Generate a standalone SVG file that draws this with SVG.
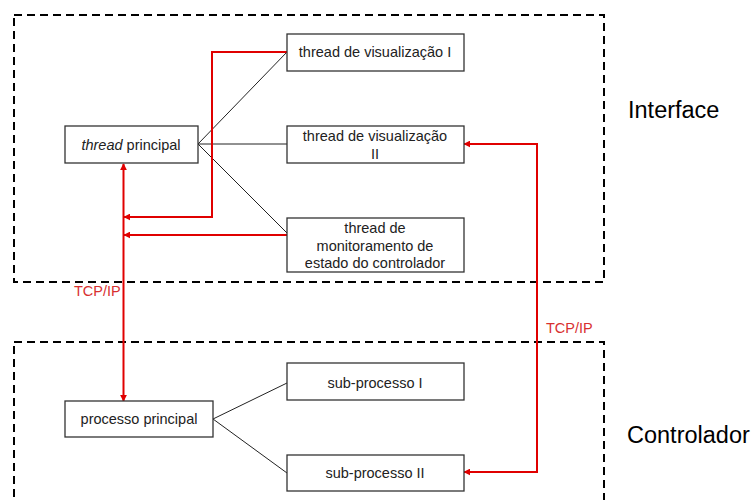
<svg xmlns="http://www.w3.org/2000/svg" width="755" height="500" viewBox="0 0 755 500">
<defs>
<style>
.zone{fill:none;stroke:#000;stroke-width:2;stroke-dasharray:8 5}
.box{fill:#fff;stroke:#333;stroke-width:1.3}
.t{font-family:"Liberation Sans",Arial,sans-serif;font-size:14.5px;fill:#222;text-anchor:middle}
.big{font-family:"Liberation Sans",Arial,sans-serif;font-size:23.5px;fill:#000}
.lbl{font-family:"Liberation Sans",Arial,sans-serif;font-size:14.5px;fill:#d83030}
.lk{fill:none;stroke:#222;stroke-width:1}
.red{fill:none;stroke:#e00000;stroke-width:2}
</style>
<marker id="ah" viewBox="0 0 10 10" refX="9" refY="5" markerWidth="7" markerHeight="7" markerUnits="userSpaceOnUse" orient="auto-start-reverse">
<path d="M0,0 L10,5 L0,10 z" fill="#e00000"/>
</marker>
</defs>
<g id="zones">
<rect class="zone" x="14" y="15" width="590" height="267"/>
<rect class="zone" x="14" y="342" width="590" height="170"/>
<text class="big" x="628" y="118">Interface</text>
<text class="big" x="627" y="443">Controlador</text>
</g>
<g id="connectors">
<line class="lk" x1="198" y1="144" x2="287" y2="52"/>
<line class="lk" x1="198" y1="144" x2="287" y2="144"/>
<line class="lk" x1="198" y1="144" x2="287" y2="233"/>
<line class="lk" x1="213" y1="419" x2="287" y2="383"/>
<line class="lk" x1="213" y1="419" x2="287" y2="473"/>
<polyline class="red" points="287,52 212,52 212,217 124,217" marker-end="url(#ah)"/>
<line class="red" x1="287" y1="235" x2="124" y2="235" marker-end="url(#ah)"/>
<line class="red" x1="123.5" y1="164" x2="123.5" y2="401" marker-start="url(#ah)" marker-end="url(#ah)"/>
<polyline class="red" points="464,144 537,144 537,472 464,472" marker-start="url(#ah)" marker-end="url(#ah)"/>
<text class="lbl" x="74" y="296">TCP/IP</text>
<text class="lbl" x="546" y="333">TCP/IP</text>
</g>
<g id="thread-principal">
<rect class="box" x="65" y="126" width="133" height="37"/>
<text class="t" x="131" y="150"><tspan font-style="italic">thread</tspan> principal</text>
</g>
<g id="thread-vis-1">
<rect class="box" x="287" y="34" width="177" height="37"/>
<text class="t" x="375" y="57">thread de visualização I</text>
</g>
<g id="thread-vis-2">
<rect class="box" x="287" y="126" width="177" height="37"/>
<text class="t" x="375" y="141">thread de visualização</text>
<text class="t" x="375" y="159">II</text>
</g>
<g id="thread-monitor">
<rect class="box" x="287" y="218" width="177" height="54"/>
<text class="t" x="375" y="233">thread de</text>
<text class="t" x="375" y="251">monitoramento de</text>
<text class="t" x="375" y="268">estado do controlador</text>
</g>
<g id="processo-principal">
<rect class="box" x="65" y="401" width="148" height="36"/>
<text class="t" x="139" y="424">processo principal</text>
</g>
<g id="sub-processo-1">
<rect class="box" x="287" y="363" width="177" height="37"/>
<text class="t" x="375" y="388">sub-processo I</text>
</g>
<g id="sub-processo-2">
<rect class="box" x="287" y="455" width="177" height="36"/>
<text class="t" x="375" y="478">sub-processo II</text>
</g>
</svg>
